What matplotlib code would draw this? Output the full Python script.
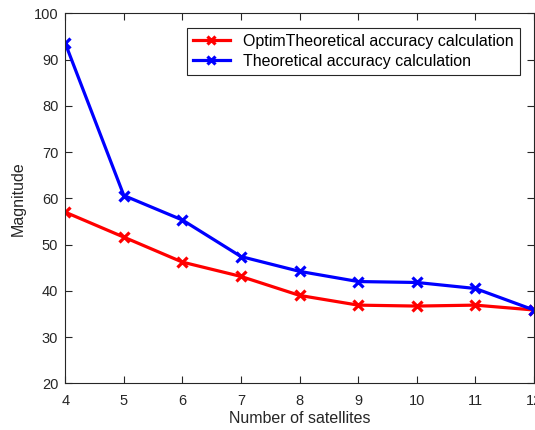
import matplotlib
matplotlib.use("Agg")
import matplotlib.pyplot as plt

plt.rcParams['font.family'] = ['Liberation Sans', 'DejaVu Sans']

satellites = [4, 5, 6, 7, 8, 9, 10, 11, 12]
optim_theoretical = [57.0, 51.6, 46.2, 43.1, 39.0, 36.9, 36.7, 36.9, 35.85]
theoretical = [93.5, 60.6, 55.3, 47.4, 44.2, 42.0, 41.8, 40.5, 35.85]
xticks = [4, 5, 6, 7, 8, 9, 10, 11, 12]
yticks = [20, 30, 40, 50, 60, 70, 80, 90, 100]

fig = plt.figure(figsize=(5.35, 4.30), dpi=100)
ax = fig.add_axes([0.122, 0.1086, 0.876, 0.8605])

ax.plot(satellites, optim_theoretical, color='#ff0000', lw=2.3, marker='x',
        ms=7, mew=2.3, label='OptimTheoretical accuracy calculation')
ax.plot(satellites, theoretical, color='#0000ff', lw=2.3, marker='x',
        ms=7, mew=2.3, label='Theoretical accuracy calculation')

ax.set_xlim(4, 12)
ax.set_ylim(20, 100)
ax.set_xticks(xticks)
ax.set_yticks(yticks)
ax.tick_params(direction='in', top=True, right=True, labelsize=10.5,
               colors='#262626', length=5, width=0.8)
ax.tick_params(axis='x', pad=8)
ax.tick_params(axis='y', pad=5)
for s in ax.spines.values():
    s.set_color('#262626')
    s.set_linewidth(0.8)

ax.set_xlabel('Number of satellites', fontsize=11.5, color='#262626', labelpad=2)
ax.set_ylabel('Magnitude', fontsize=11.5, color='#262626', labelpad=6)

leg = ax.legend(loc='upper right', fontsize=11.5, fancybox=False, framealpha=1,
                edgecolor='#262626', handlelength=2.3, borderaxespad=0.9,
                markerscale=0.8, borderpad=0.4, labelspacing=0.3)
leg.get_frame().set_linewidth(0.8)
for t in leg.get_texts():
    t.set_color('#000000')

fig.savefig('out.png', dpi=100)
